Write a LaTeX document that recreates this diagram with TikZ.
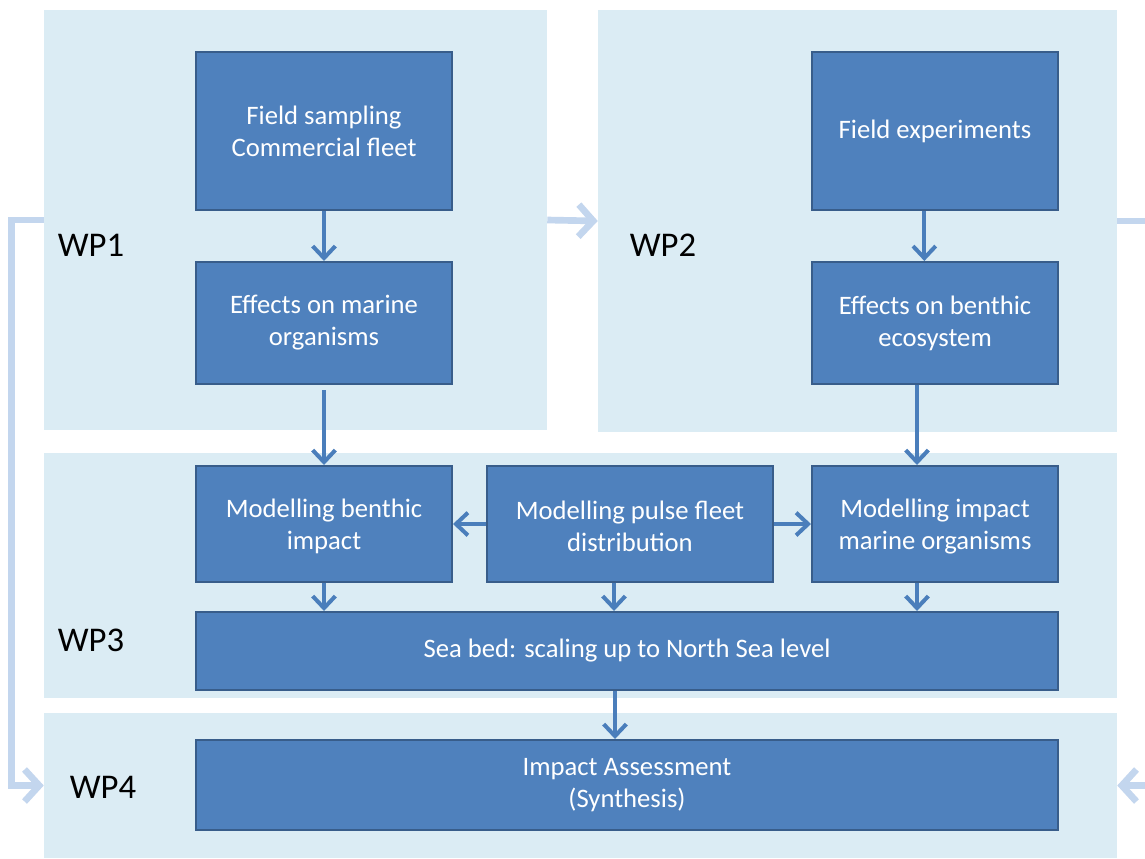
\documentclass[tikz,border=0pt]{standalone}
\usepackage{fontspec}
\setmainfont{Carlito}
\usetikzlibrary{arrows.meta,fit,calc}
\definecolor{panelc}{HTML}{DBECF4}
\definecolor{boxfill}{HTML}{4F81BD}
\definecolor{boxline}{HTML}{385D8A}
\definecolor{darrow}{HTML}{4A7EBB}
\definecolor{larrow}{HTML}{C3D6EE}
\begin{document}
\begin{tikzpicture}[x=0.75pt,y=-0.75pt,
  panel/.style={fill=panelc,draw=none,inner sep=0pt},
  bx/.style={fill=boxfill,draw=boxline,line width=1.5pt,inner sep=0pt},
  bxtext/.style={text=white,align=center,inner sep=0pt,font=\fontsize{20}{24}\selectfont},
  wp/.style={font=\fontsize{26}{30}\selectfont,text=black},
  darr/.style={draw=darrow,line width=3pt,-{Straight Barb[length=9pt,width=17pt,line width=3pt]}},
  larr/.style={draw=larrow,line width=5pt,-{Straight Barb[length=11pt,width=24pt,line width=5pt]}}]
\useasboundingbox (0,0) rectangle (1145,858);
\clip (0,0) rectangle (1145,858);
\fill[white] (0,0) rectangle (1145,858);
% panels
\node[panel,fit={(44,10) (547,430)}] (wp1) {};
\node[panel,fit={(598,10) (1117,432)}] (wp2) {};
\node[panel,fit={(44,453) (1117,698)}] (wp3) {};
\node[panel,fit={(44,713) (1117,858)}] (wp4) {};
\node[wp] (l1) at (91,245) {WP1};
\node[wp] (l2) at (663,245) {WP2};
\node[wp] (l3) at (91,640) {WP3};
\node[wp] (l4) at (103,787) {WP4};
% boxes
\node[bx,fit={(196,52) (452,210)},label={[bxtext]center:Field sampling\\Commercial fleet}] (fs) {};
\node[bx,fit={(196,262) (452,384)},label={[bxtext]center:Effects on marine\\organisms}] (em) {};
\node[bx,fit={(812,52) (1058,210)},label={[bxtext]center:Field experiments}] (fe) {};
\node[bx,fit={(812,262) (1058,384)},label={[bxtext]center:Effects on benthic\\ecosystem}] (eb) {};
\node[bx,fit={(196,466) (452,582)},label={[bxtext,yshift=-2pt]center:Modelling benthic\\impact}] (mbi) {};
\node[bx,fit={(487,466) (773,582)},label={[bxtext,yshift=-2pt]center:Modelling pulse fleet\\distribution}] (mpf) {};
\node[bx,fit={(812,466) (1058,582)},label={[bxtext,yshift=-2pt]center:Modelling impact\\marine organisms}] (mim) {};
\node[bx,fit={(196,612) (1058,690)},label={[bxtext]center:Sea bed: scaling up to North Sea level}] (sb) {};
\node[bx,fit={(196,740) (1058,830)},label={[bxtext]center:Impact Assessment\\(Synthesis)}] (ia) {};
% light arrows
\draw[larr] (wp1.west) -- ++(-32,0) |- (wp4.west);
\draw[larr] (wp1.east) -- (wp2.west);
\draw[larr] (wp2.east) -- ++(60,0) |- (wp4.east);
% dark arrows
\draw[darr] (fs.south) -- (em.north);
\draw[darr] ([yshift=-4pt]em.south) -- (mbi.north);
\draw[darr] ([xshift=-8pt]fe.south) -- ([xshift=-8pt]eb.north);
\draw[darr] ([xshift=-13.5pt]eb.south) -- ([xshift=-13.5pt]mim.north);
\draw[darr] (mpf.west) -- (mbi.east);
\draw[darr] (mpf.east) -- (mim.west);
\draw[darr] (mbi.south) -- (mbi.south |- sb.north);
\draw[darr] ([xshift=-12pt]mpf.south) -- ([xshift=-12pt]mpf.south |- sb.north);
\draw[darr] ([xshift=-13.5pt]mim.south) -- ([xshift=-13.5pt]mim.south |- sb.north);
\draw[darr] ([xshift=-9pt]sb.south) -- ([xshift=-9pt]sb.south |- ia.north);
\end{tikzpicture}
\end{document}
